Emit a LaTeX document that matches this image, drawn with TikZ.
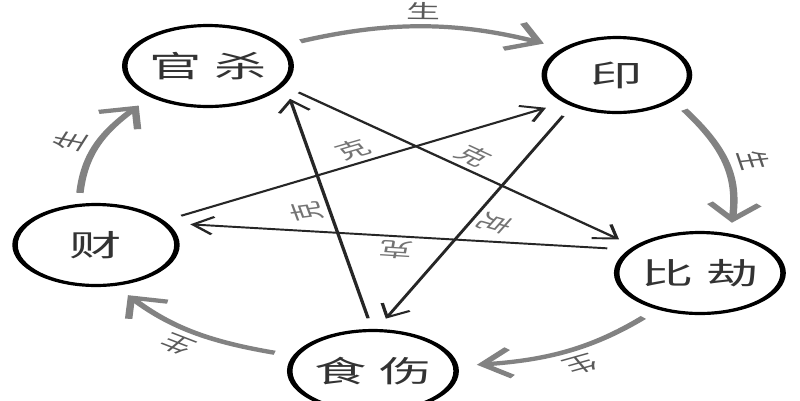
\documentclass[tikz,border=0pt]{standalone}
\usepackage{fontspec}
\newfontfamily\cjk{Noto Sans CJK SC}
\usetikzlibrary{shapes.geometric, arrows.meta}

\definecolor{shengcol}{HTML}{828282}
\definecolor{lblcol}{HTML}{5A5A5A}

\begin{document}
\begin{tikzpicture}[x=0.02cm, y=-0.02cm]
\fill[white] (0,0) rectangle (800,400);
\clip (0,0) rectangle (800,400);

% the whole figure is stretched sideways, like the picture
\begin{scope}[transform canvas={xscale=1.75}, x=0.011429cm, y=-0.02cm,
    wuxing/.style={ellipse, draw, line width=1.8pt, minimum width=1.78cm, minimum height=1.62cm, inner sep=0pt, outer sep=7pt, text=black!80, font=\cjk\fontsize{17}{20}\selectfont},
    sheng/.style={draw=shengcol, line width=2.4pt, -{Straight Barb[length=9pt, width=16pt]}},
    ke/.style={draw=black!85, line width=1.1pt, -{Straight Barb[length=6.5pt, width=10pt]}},
    shenglbl/.style={midway, anchor=south, inner sep=3pt, text=lblcol, font=\cjk\fontsize{11}{13}\selectfont},
    kelbl/.style={midway, anchor=south, inner sep=2pt, text=black!55, font=\cjk\fontsize{11}{13}\selectfont}
]

\node[wuxing] (guansha) at (208,66) {官\hspace{0.15cm}杀};
\node[wuxing, minimum width=1.66cm, minimum height=1.5cm] (yin) at (617,75) {印};
\node[wuxing] (bijie) at (700,273) {比\hspace{0.15cm}劫};
\node[wuxing] (shishang) at (373,371) {食\hspace{0.15cm}伤};
\node[wuxing, minimum width=1.85cm] (cai) at (96,245) {财};

% sheng cycle
\draw[sheng] (guansha.25) to[bend left=23] node[shenglbl, rotate=-1] (s1) {生} (yin.143);
\draw[sheng] (yin.-42) to[bend left=18] node[shenglbl, rotate=-79] (s2) {生} (bijie.70);
\draw[sheng] (bijie.234) to[bend left=20] node[shenglbl, rotate=-154] (s3) {生} (shishang.6);
\draw[sheng] (shishang.162) to[bend left=18] node[shenglbl, rotate=146] (s4) {生} (cai.-70);
\draw[sheng] (cai.100) to[bend left=17] node[shenglbl, rotate=70] (s5) {生} (guansha.225);

% ke star
\draw[ke] (cai.31) -- node[kelbl, rotate=27] (k1) {克} (yin.219);
\draw[ke] (yin.233) -- node[kelbl, rotate=-117] (k2) {克} (shishang.82);
\draw[ke] (shishang.93) -- node[kelbl, rotate=102] (k3) {克} (guansha.-35);
\draw[ke] (guansha.-27) -- node[kelbl, rotate=-39] (k4) {克} (bijie.144);
\draw[ke] (bijie.155) -- node[kelbl, rotate=174] (k5) {克} (cai.21);

\end{scope}
\end{tikzpicture}
\end{document}
